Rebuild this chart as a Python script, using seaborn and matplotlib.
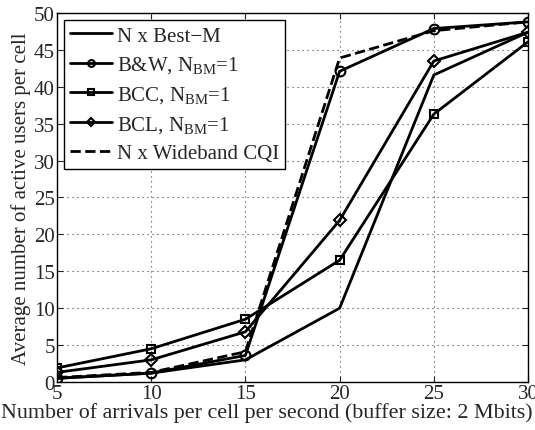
import numpy as np
import pandas as pd
import matplotlib
matplotlib.use("Agg")
import matplotlib.pyplot as plt
import seaborn as sns

arrivals = [5, 10, 15, 20, 25, 30]
best_m = [0.5, 1.2, 3.0, 10.0, 41.6, 47.4]
bw = [0.5, 1.2, 3.6, 42.1, 47.9, 48.8]
bcc = [1.9, 4.5, 8.5, 16.5, 36.3, 46.1]
bcl = [1.3, 3.0, 6.8, 21.9, 43.5, 47.4]
wideband = [0.6, 1.3, 4.1, 43.9, 47.6, 48.8]

labels = ["N x Best\u2212M", r"B&W, N$_{\rm BM}$=1", r"BCC, N$_{\rm BM}$=1",
          r"BCL, N$_{\rm BM}$=1", "N x Wideband CQI"]

sns.set_style("ticks")
plt.rcParams["font.family"] = ["Liberation Serif", "DejaVu Serif"]
plt.rcParams["mathtext.fontset"] = "custom"
plt.rcParams["mathtext.rm"] = "Liberation Serif"
plt.rcParams["mathtext.it"] = "Liberation Serif:italic"

fig = plt.figure(figsize=(5.35, 4.31), dpi=100)
ax = fig.add_axes([0.1065, 0.1114, 0.8805, 0.8561])

series = [best_m, bw, bcc, bcl, wideband]
markers = [None, "o", "s", "D", None]
sizes = [0, 7, 6, 6, 0]
styles = ["-", "-", "-", "-", "--"]
for vals, lab, mk, ms, ls in zip(series, labels, markers, sizes, styles):
    df = pd.DataFrame({"x": arrivals, "y": vals})
    sns.lineplot(data=df, x="x", y="y", ax=ax, color="black", lw=2, linestyle=ls,
                 marker=mk, markersize=ms, markerfacecolor="none", markeredgecolor="black",
                 markeredgewidth=1.5, label=lab)

ax.set_xlim(5, 30)
ax.set_ylim(0, 50)
ax.set_xticks([5, 10, 15, 20, 25, 30])
ax.set_yticks(range(0, 51, 5))
ax.grid(True, linestyle=(0, (1, 3.5)), color="#444444", lw=0.8)
ax.tick_params(direction="in", top=True, right=True, labelsize=15, length=4, pad=1.5)
for s in ax.spines.values():
    s.set_linewidth(1.0)
    s.set_color("black")
ax.set_xlabel("Number of arrivals per cell per second (buffer size: 2 Mbits)", fontsize=15.8)
ax.xaxis.set_label_coords(0.446, -0.055)
ax.set_ylabel("Average number of active users per cell", fontsize=15, labelpad=2)

leg = ax.legend(loc="upper left", fontsize=15, frameon=True, fancybox=False, framealpha=1,
                edgecolor="black", handlelength=2.0, borderaxespad=0.33, labelspacing=0.42,
                handletextpad=0.25, borderpad=0.3, markerscale=0.7)
leg.get_frame().set_linewidth(1.0)

fig.savefig("out.png", dpi=100)
